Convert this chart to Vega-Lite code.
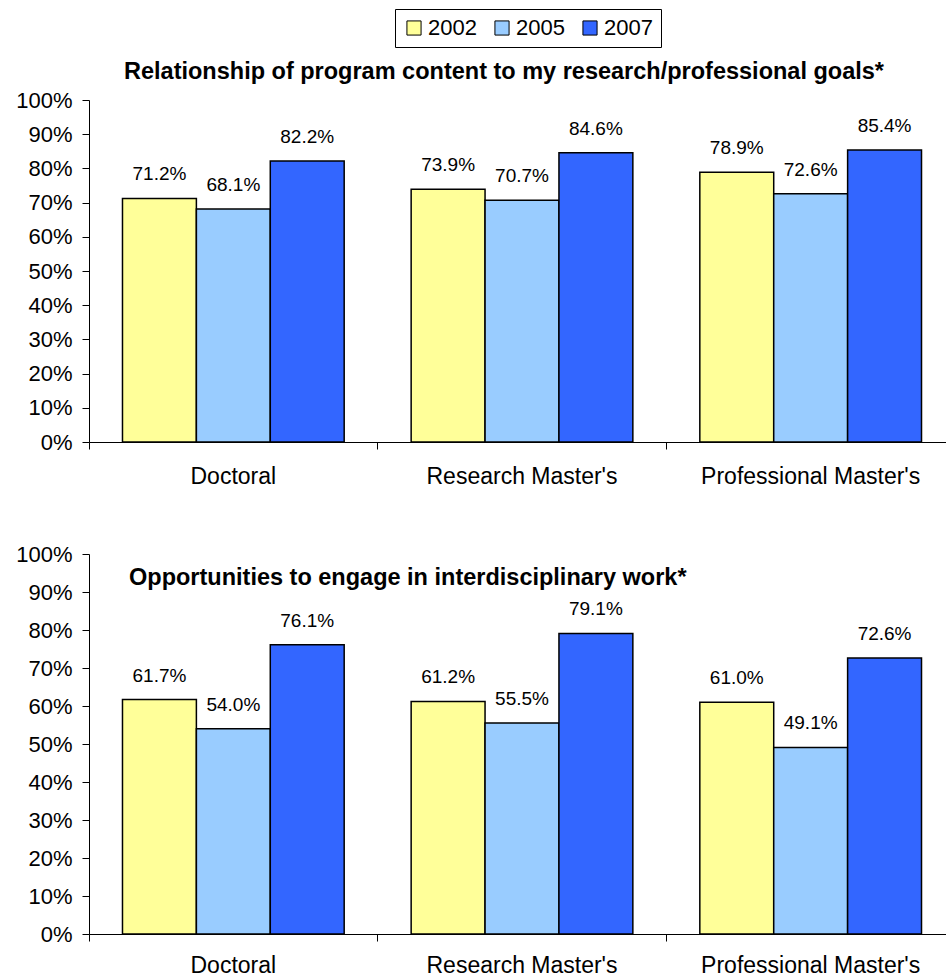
{
  "$schema": "https://vega.github.io/schema/vega-lite/v6.json",
  "background": "white",
  "padding": {"left": 15, "top": 8, "right": 0, "bottom": 0},
  "spacing": 55,
  "config": {
    "font": "Liberation Sans",
    "view": {"stroke": null},
    "axis": {
      "labelColor": "black",
      "domainColor": "black",
      "tickColor": "black",
      "grid": false,
      "labelFont": "Liberation Sans",
      "title": null,
      "domainWidth": 1,
      "tickWidth": 1,
      "labelLimit": 0
    },
    "legend": {
      "orient": "none",
      "legendX": 306,
      "legendY": -91,
      "direction": "horizontal",
      "title": null,
      "symbolType": "square",
      "symbolSize": 200,
      "symbolStrokeColor": "black",
      "symbolStrokeWidth": 1,
      "symbolOpacity": 1,
      "labelFontSize": 22,
      "labelFont": "Liberation Sans",
      "labelColor": "black",
      "strokeColor": "black",
      "fillColor": "white",
      "padding": 8,
      "columnPadding": 14,
      "labelOffset": 3
    }
  },
  "datasets": {
    "d": [
      {"panel": "A", "category": "Doctoral", "year": "2002", "value": 0.712},
      {"panel": "A", "category": "Doctoral", "year": "2005", "value": 0.681},
      {"panel": "A", "category": "Doctoral", "year": "2007", "value": 0.822},
      {"panel": "A", "category": "Research Master's", "year": "2002", "value": 0.739},
      {"panel": "A", "category": "Research Master's", "year": "2005", "value": 0.707},
      {"panel": "A", "category": "Research Master's", "year": "2007", "value": 0.846},
      {"panel": "A", "category": "Professional Master's", "year": "2002", "value": 0.789},
      {"panel": "A", "category": "Professional Master's", "year": "2005", "value": 0.726},
      {"panel": "A", "category": "Professional Master's", "year": "2007", "value": 0.854},
      {"panel": "B", "category": "Doctoral", "year": "2002", "value": 0.617},
      {"panel": "B", "category": "Doctoral", "year": "2005", "value": 0.540},
      {"panel": "B", "category": "Doctoral", "year": "2007", "value": 0.761},
      {"panel": "B", "category": "Research Master's", "year": "2002", "value": 0.612},
      {"panel": "B", "category": "Research Master's", "year": "2005", "value": 0.555},
      {"panel": "B", "category": "Research Master's", "year": "2007", "value": 0.791},
      {"panel": "B", "category": "Professional Master's", "year": "2002", "value": 0.610},
      {"panel": "B", "category": "Professional Master's", "year": "2005", "value": 0.491},
      {"panel": "B", "category": "Professional Master's", "year": "2007", "value": 0.726}
    ]
  },
  "vconcat": [
    {
      "width": 866,
      "height": 342,
      "title": {
        "text": "Relationship of program content to my research/professional goals*",
        "anchor": "start",
        "frame": "group",
        "dx": 35,
        "offset": -13,
        "baseline": "alphabetic",
        "fontSize": 23.5,
        "fontWeight": "bold",
        "font": "Liberation Sans",
        "color": "black"
      },
      "data": {"name": "d"},
      "transform": [{"filter": "datum.panel == 'A'"}],
      "encoding": {
        "x": {
          "field": "category",
          "type": "nominal",
          "sort": ["Doctoral", "Research Master's", "Professional Master's"],
          "scale": {"paddingInner": 0.232, "paddingOuter": 0.116},
          "axis": {"labelAngle": 0, "labelFontSize": 23, "tickSize": 7, "labelPadding": 16, "bandPosition": -0.151}
        },
        "y": {
          "field": "value",
          "type": "quantitative",
          "scale": {"domain": [0, 1]},
          "axis": {"format": ".0%", "values": [0, 0.1, 0.2, 0.3, 0.4, 0.5, 0.6, 0.7, 0.8, 0.9, 1], "labelFontSize": 22, "tickSize": 7, "labelPadding": 10}
        },
        "xOffset": {"field": "year", "type": "nominal", "scale": {"paddingInner": 0, "paddingOuter": 0}}
      },
      "layer": [
        {
          "mark": {"type": "bar", "stroke": "black", "strokeWidth": 1.5},
          "encoding": {
            "color": {
              "field": "year",
              "type": "nominal",
              "scale": {"domain": ["2002", "2005", "2007"], "range": ["#FFFF99", "#99CCFF", "#3366FF"]}
            }
          }
        },
        {
          "mark": {"type": "text", "dy": -18, "baseline": "alphabetic", "fontSize": 19, "color": "black", "font": "Liberation Sans"},
          "encoding": {"text": {"field": "value", "type": "quantitative", "format": ".1%"}}
        }
      ]
    },
    {
      "width": 866,
      "height": 380,
      "title": {
        "text": "Opportunities to engage in interdisciplinary work*",
        "anchor": "start",
        "frame": "group",
        "dx": 40,
        "offset": -65,
        "baseline": "alphabetic",
        "fontSize": 23.5,
        "fontWeight": "bold",
        "font": "Liberation Sans",
        "color": "black"
      },
      "data": {"name": "d"},
      "transform": [{"filter": "datum.panel == 'B'"}],
      "encoding": {
        "x": {
          "field": "category",
          "type": "nominal",
          "sort": ["Doctoral", "Research Master's", "Professional Master's"],
          "scale": {"paddingInner": 0.232, "paddingOuter": 0.116},
          "axis": {"labelAngle": 0, "labelFontSize": 23, "tickSize": 7, "labelPadding": 13, "bandPosition": -0.151}
        },
        "y": {
          "field": "value",
          "type": "quantitative",
          "scale": {"domain": [0, 1]},
          "axis": {"format": ".0%", "values": [0, 0.1, 0.2, 0.3, 0.4, 0.5, 0.6, 0.7, 0.8, 0.9, 1], "labelFontSize": 22, "tickSize": 7, "labelPadding": 10}
        },
        "xOffset": {"field": "year", "type": "nominal", "scale": {"paddingInner": 0, "paddingOuter": 0}}
      },
      "layer": [
        {
          "mark": {"type": "bar", "stroke": "black", "strokeWidth": 1.5},
          "encoding": {
            "color": {
              "field": "year",
              "type": "nominal",
              "scale": {"domain": ["2002", "2005", "2007"], "range": ["#FFFF99", "#99CCFF", "#3366FF"]}
            }
          }
        },
        {
          "mark": {"type": "text", "dy": -18, "baseline": "alphabetic", "fontSize": 19, "color": "black", "font": "Liberation Sans"},
          "encoding": {"text": {"field": "value", "type": "quantitative", "format": ".1%"}}
        }
      ]
    }
  ]
}
